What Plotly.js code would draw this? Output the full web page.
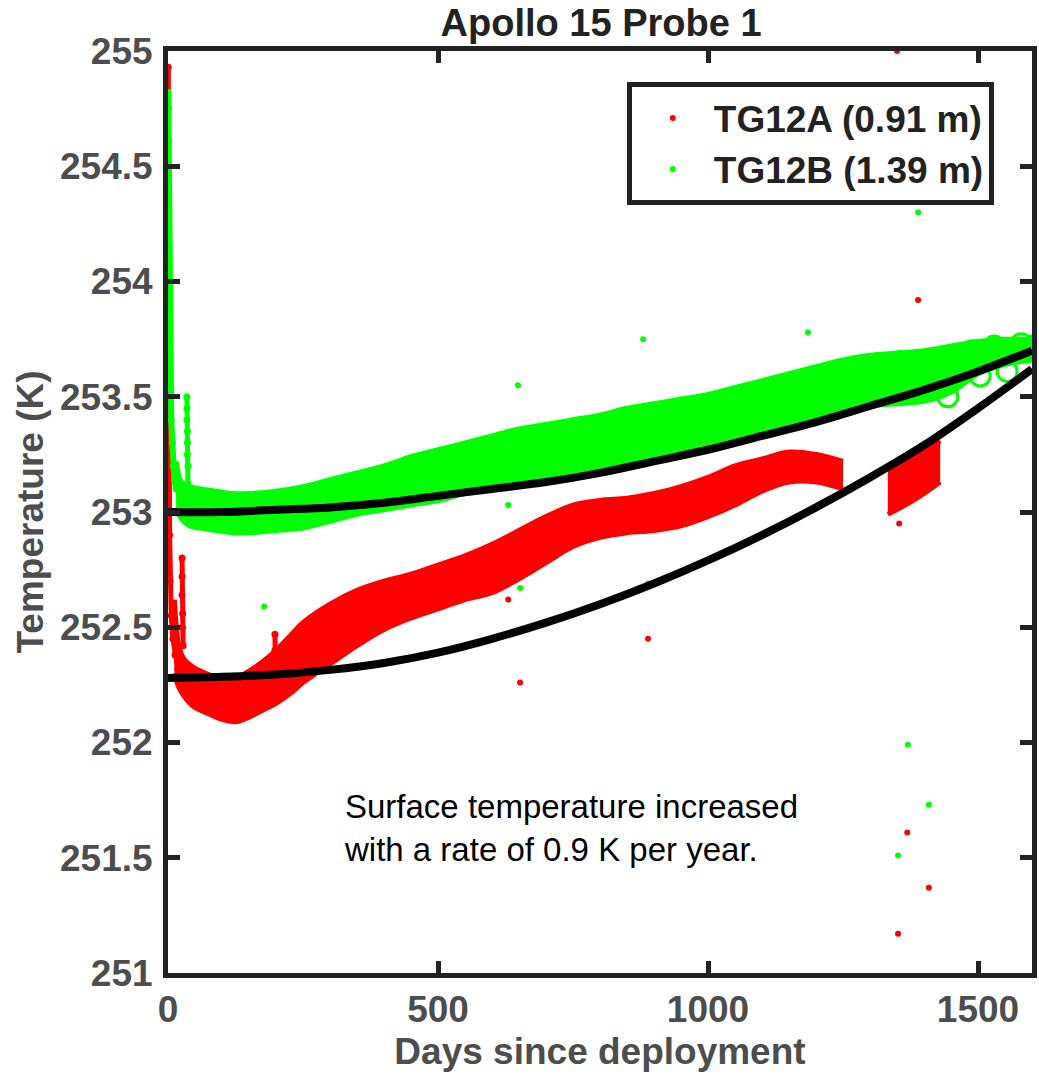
<!DOCTYPE html>
<html>
<head>
<meta charset="utf-8">
<script src="https://cdn.plot.ly/plotly-3.0.1.min.js"></script>
<style>html,body{margin:0;padding:0;background:#fff;}#chart{width:1039px;height:1080px;}</style>
</head>
<body>
<div id="chart"></div>
<script>
// ---- data ----
const seriesNames = ["TG12A (0.91 m)", "TG12B (1.39 m)"];

// TG12B (green) main cloud: upper / lower envelope by day
const greenBandDays = [15, 25, 40, 60, 90, 120, 150, 200, 250, 300, 350, 400, 450, 500, 550, 600, 650, 700, 750, 800, 850, 900, 950, 1000, 1050, 1100, 1150, 1200, 1250, 1300, 1350, 1400, 1450, 1500, 1550, 1600];
const greenBandHi = [253.22, 253.13, 253.11, 253.10, 253.09, 253.08, 253.08, 253.09, 253.11, 253.14, 253.17, 253.20, 253.24, 253.27, 253.30, 253.33, 253.36, 253.38, 253.40, 253.42, 253.45, 253.47, 253.49, 253.51, 253.54, 253.57, 253.60, 253.63, 253.66, 253.68, 253.69, 253.70, 253.72, 253.74, 253.75, 253.75];
const greenBandLo = [253.02, 252.97, 252.94, 252.93, 252.92, 252.91, 252.91, 252.92, 252.93, 252.96, 252.99, 253.01, 253.03, 253.05, 253.08, 253.10, 253.13, 253.15, 253.17, 253.19, 253.21, 253.24, 253.26, 253.28, 253.31, 253.35, 253.38, 253.41, 253.44, 253.46, 253.47, 253.48, 253.52, 253.60, 253.64, 253.66];

// TG12A (red) main cloud, first segment
const redBandDays = [12, 20, 30, 45, 60, 80, 100, 125, 150, 175, 200, 225, 250, 300, 350, 400, 450, 500, 550, 600, 650, 700, 750, 800, 850, 900, 950, 1000, 1050, 1100, 1150, 1200, 1250];
const redBandHi = [252.62, 252.42, 252.36, 252.33, 252.31, 252.29, 252.28, 252.28, 252.31, 252.35, 252.40, 252.46, 252.52, 252.60, 252.66, 252.70, 252.73, 252.77, 252.81, 252.86, 252.92, 252.98, 253.03, 253.05, 253.06, 253.08, 253.11, 253.15, 253.20, 253.23, 253.26, 253.25, 253.22];
const redBandLo = [252.30, 252.24, 252.20, 252.16, 252.14, 252.12, 252.10, 252.09, 252.11, 252.14, 252.17, 252.21, 252.26, 252.34, 252.42, 252.49, 252.54, 252.58, 252.62, 252.65, 252.71, 252.78, 252.85, 252.89, 252.91, 252.92, 252.94, 252.98, 253.03, 253.09, 253.13, 253.13, 253.10];

// TG12A (red) second segment after the gap
const red2Days = [1333, 1380, 1430];
const red2Hi = [253.19, 253.24, 253.31];
const red2Lo = [252.99, 253.05, 253.13];

// early transients (first days after deployment)
const greenEarlyDays = [0.5, 1, 1, 1.5, 2, 2, 2.5, 3, 3.5, 4, 5, 6, 8, 10, 12, 15];
const greenEarlyK = [254.82, 254.61, 254.43, 254.30, 254.15, 254.06, 254.00, 253.85, 253.70, 253.60, 253.50, 253.40, 253.30, 253.20, 253.14, 253.10];
const greenSpikeDays = [35, 35, 35, 36, 36, 36, 37, 37];
const greenSpikeK = [253.50, 253.45, 253.40, 253.35, 253.30, 253.25, 253.20, 253.12];

const redEarlyDays = [0.5, 0.5, 1, 1, 1, 1, 1, 1.5, 1.5, 2, 2.5, 3, 4, 6, 9, 13, 18];
const redEarlyK = [254.93, 254.75, 254.47, 254.43, 254.38, 254.30, 254.25, 254.06, 253.80, 253.50, 253.20, 252.90, 252.70, 252.55, 252.45, 252.38, 252.32];
const redSpikeDays = [26, 26, 26, 27, 27, 28];
const redSpikeK = [252.80, 252.72, 252.64, 252.56, 252.50, 252.42];
const redSpike2Days = [198, 198, 199];
const redSpike2K = [252.47, 252.40, 252.33];

// isolated outliers
const redOutDays = [1350, 1389, 1183, 1354, 630, 652, 874, 889, 1369, 1409, 1352];
const redOutK = [255.00, 253.92, 253.42, 252.95, 252.62, 252.26, 252.67, 252.45, 251.61, 251.37, 251.17];
const greenOutDays = [1389, 1185, 880, 648, 652, 889, 178, 1354, 1370, 1409, 1352, 630];
const greenOutK = [254.30, 253.78, 253.75, 253.55, 252.67, 252.69, 252.59, 253.69, 251.99, 251.73, 251.51, 253.03];

// late TG12B readings drawn as open circles
const greenRingDays = [1235, 1250, 1262, 1272, 1296, 1324, 1350, 1380, 1420, 1444, 1460, 1489, 1504, 1530, 1554, 1580, 1600];
const greenRingK = [253.55, 253.50, 253.58, 253.61, 253.50, 253.53, 253.60, 253.62, 253.63, 253.50, 253.68, 253.70, 253.59, 253.72, 253.61, 253.73, 253.72];

// fitted curves
const fitDays = [0, 100, 200, 300, 400, 500, 600, 700, 800, 900, 1000, 1100, 1200, 1300, 1400, 1500, 1600];
const fitGreen = [253.00, 253.00, 253.01, 253.02, 253.04, 253.07, 253.10, 253.13, 253.17, 253.22, 253.27, 253.33, 253.39, 253.46, 253.53, 253.61, 253.70];
const fitRed = [252.28, 252.285, 252.295, 252.315, 252.345, 252.39, 252.45, 252.52, 252.60, 252.69, 252.79, 252.90, 253.02, 253.15, 253.29, 253.45, 253.62];

const xTicks = [0, 500, 1000, 1500];
const yTicks = [251, 251.5, 252, 252.5, 253, 253.5, 254, 254.5, 255];

const noteText = "Surface temperature increased<br>with a rate of 0.9 K per year.";

// ---- styles ----
const RED = "#ff0000", GREEN = "#00ff00";
const FONT = "Liberation Sans, Arial, sans-serif";

function band(days, hi, lo, color) {
  return [
    {x: days, y: lo, mode: "lines", line: {color: color, width: 5, shape: "spline"}, showlegend: false, hoverinfo: "skip"},
    {x: days, y: hi, mode: "lines", line: {color: color, width: 5, shape: "spline"}, fill: "tonexty", fillcolor: color, showlegend: false, hoverinfo: "skip"}
  ];
}
function column(days, vals, color, w, s) {
  return {x: days, y: vals, mode: "lines+markers", line: {color: color, width: w}, marker: {color: color, size: s}, showlegend: false, hoverinfo: "skip"};
}

const traces = [];
traces.push(...band(redBandDays, redBandHi, redBandLo, RED));
traces.push(...band(red2Days, red2Hi, red2Lo, RED));
traces.push(column(redEarlyDays, redEarlyK, RED, 5, 7));
traces.push(column(redSpikeDays, redSpikeK, RED, 5, 7));
traces.push(column(redSpike2Days, redSpike2K, RED, 5, 7));
traces.push({x: redOutDays, y: redOutK, mode: "markers", marker: {color: RED, size: 6}, name: seriesNames[0], showlegend: true});

traces.push(...band(greenBandDays, greenBandHi, greenBandLo, GREEN));
traces.push(column(greenEarlyDays, greenEarlyK, GREEN, 6, 7));
traces.push(column(greenSpikeDays, greenSpikeK, GREEN, 5, 7));
traces.push({x: greenRingDays, y: greenRingK, mode: "markers", marker: {color: GREEN, size: 20, line: {color: GREEN, width: 3}, symbol: "circle-open"}, showlegend: false, hoverinfo: "skip"});
traces.push({x: greenOutDays, y: greenOutK, mode: "markers", marker: {color: GREEN, size: 6}, name: seriesNames[1], showlegend: true});

traces.push({x: fitDays, y: fitGreen, mode: "lines", line: {color: "#000", width: 8, shape: "spline", smoothing: 1}, showlegend: false});
traces.push({x: fitDays, y: fitRed, mode: "lines", line: {color: "#000", width: 8, shape: "spline", smoothing: 1}, showlegend: false});

const axisCommon = {
  showline: true, linecolor: "#222", linewidth: 5, mirror: "ticks",
  ticks: "inside", ticklen: 12, tickwidth: 5, tickcolor: "#222",
  showgrid: false, zeroline: false,
  tickfont: {family: FONT, size: 37, color: "#4d4d4d", weight: "bold"}
};

const layout = {
  width: 1039, height: 1080,
  margin: {l: 168, r: 7, t: 51, b: 107},
  paper_bgcolor: "#fff", plot_bgcolor: "#fff",
  title: {text: "Apollo 15 Probe 1", font: {family: FONT, size: 38, color: "#222", weight: "bold"},
          x: 0.5785, xanchor: "center", y: 0.979, yref: "container", yanchor: "middle"},
  xaxis: Object.assign({}, axisCommon, {
    range: [0, 1600], tickvals: xTicks, ticktext: xTicks.map(String),
    title: {text: "Days since deployment", font: {family: FONT, size: 37, color: "#4d4d4d", weight: "bold"}, standoff: 10}
  }),
  yaxis: Object.assign({}, axisCommon, {
    range: [251, 255], tickvals: yTicks, ticktext: yTicks.map(String), ticklabelstandoff: 3,
    title: {text: "Temperature (K)", font: {family: FONT, size: 37, color: "#4d4d4d", weight: "bold"}, standoff: 7}
  }),
  legend: {
    x: 0.531, y: 0.966, xanchor: "left", yanchor: "top", traceorder: "normal",
    bgcolor: "#fff", bordercolor: "#222", borderwidth: 5,
    font: {family: FONT, size: 37, color: "#222", weight: "bold"},
    itemwidth: 72, tracegroupgap: 0
  },
  annotations: [{
    x: 322, y: 251.63, xref: "x", yref: "y", xanchor: "left", yanchor: "middle", align: "left",
    text: noteText, showarrow: false,
    font: {family: FONT, size: 33, color: "#000"}
  }]
};

Plotly.newPlot("chart", traces, layout, {displayModeBar: false, staticPlot: true});
</script>
</body>
</html>
